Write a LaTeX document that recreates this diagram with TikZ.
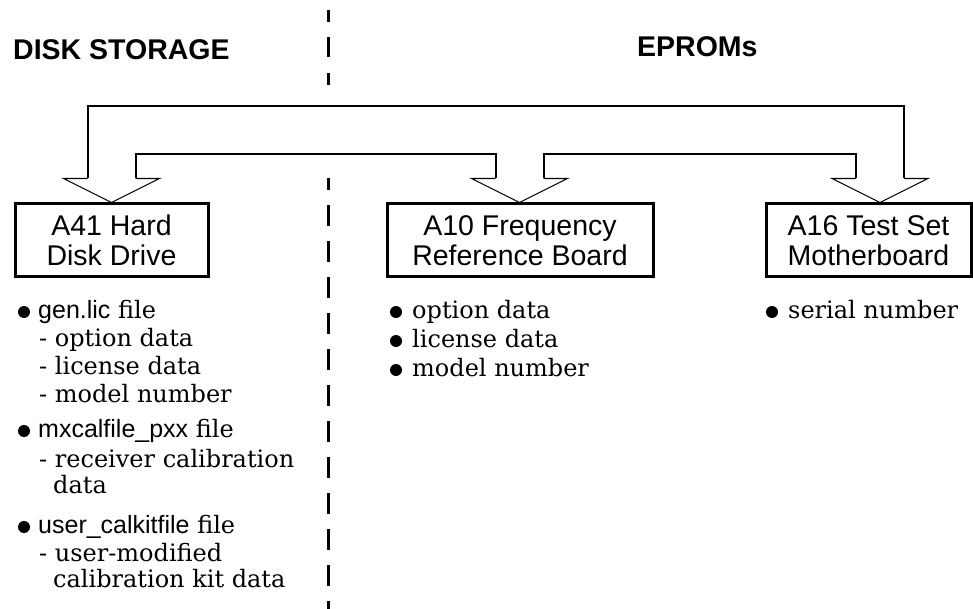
\documentclass[tikz,border=0pt]{standalone}
\usepackage{fontspec}
\setmainfont{DejaVu Serif}
\setsansfont{Liberation Sans}
\usetikzlibrary{calc}
\newcommand\fname[1]{{\sffamily\fontsize{25}{30}\selectfont #1}}
\begin{document}
\begin{tikzpicture}[x=1pt,y=-1pt,
  box/.style={draw,line width=3pt,inner sep=0pt,align=center,minimum height=73pt,
    font=\sffamily\fontsize{28.5}{30}\selectfont},
  head/.style={font=\sffamily\bfseries\fontsize{28.5}{30}\selectfont,anchor=base west,inner sep=0pt},
  item/.style={font=\fontsize{24}{28}\selectfont,anchor=base west,inner sep=0pt},
  shaft/.style={line width=2pt},
  tipline/.style={line width=1.1pt,line join=miter},
  divider/.style={line width=3pt},
  harrow/.pic={\draw[tipline] (-24,-24) -- (-48,-24) -- (0,0) -- (48,-24) -- (24,-24);}]
\useasboundingbox (0,0) rectangle (973,609);

% divider
\foreach \a/\b in {10/22,37/57,73/85,178/190} \draw[divider] (328,\a) -- (328,\b);
\draw[divider,dash pattern=on 21pt off 15pt] (328,205) -- (328,609);

% headings
\node[head] (hdisk) at (13,60) {DISK STORAGE};
\node[head] (heprom) at (637,57) {EPROMs};

% boxes
\node[box,minimum width=193pt] (a41) at (111.5,240.5) {A41 Hard\\Disk Drive};
\node[box,minimum width=266pt] (a10) at (520,240.5) {A10 Frequency\\Reference Board};
\node[box,minimum width=205pt] (a16) at (868.5,240.5) {A16 Test Set\\Motherboard};

% arrow tips
\coordinate (tipL) at (a41.north);
\coordinate (tipM) at ($(a10.north)+(-0.5,0)$);
\coordinate (tipR) at ($(a16.north)+(11.5,0)$);
\pic at (tipL) {harrow};
\pic at (tipM) {harrow};
\pic at (tipR) {harrow};

% connectors
\draw[shaft] ($(tipL)+(-24,-24)$) -- ++(0,-72) -| ($(tipR)+(24,-24)$);
\draw[shaft] ($(tipL)+(24,-24)$) -- ++(0,-24) -| ($(tipM)+(-24,-24)$);
\draw[shaft] ($(tipM)+(24,-24)$) -- ++(0,-24) -| ($(tipR)+(-24,-24)$);

% left list
\fill (24,312) circle (6);
\node[item] (l1) at (38,318) {\fname{gen.lic} file};
\node[item] (l2) at (39,346) {- option data};
\node[item] (l3) at (39,374) {- license data};
\node[item] (l4) at (39,402) {- model number};
\fill (24,431) circle (6);
\node[item] (l5) at (38,437) {\fname{mxcalfile\_pxx} file};
\node[item] (l6) at (39,467) {- receiver calibration};
\node[item] (l7) at (53,493) {data};
\fill (24,527) circle (6);
\node[item] (l8) at (38,533) {\fname{user\_calkitfile} file};
\node[item] (l9) at (39,561) {- user-modified};
\node[item] (l10) at (53,587) {calibration kit data};

% middle list
\fill (396,312) circle (6);
\node[item] (m1) at (412,318) {option data};
\fill (396,341) circle (6);
\node[item] (m2) at (412,347) {license data};
\fill (396,370) circle (6);
\node[item] (m3) at (412,376) {model number};

% right list
\fill (772,312) circle (6);
\node[item] (r1) at (788,318) {serial number};
\end{tikzpicture}
\end{document}
